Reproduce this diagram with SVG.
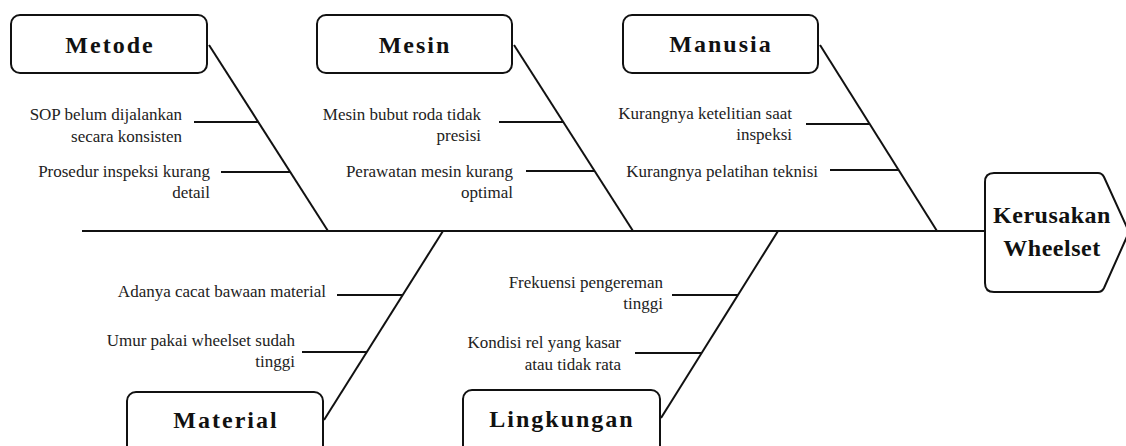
<svg xmlns="http://www.w3.org/2000/svg" width="1126" height="446" viewBox="0 0 1126 446">
<style>
.box{fill:#fff;stroke:#111;stroke-width:2}
.ln{stroke:#111;stroke-width:2;fill:none}
.t{font-family:"Liberation Serif","Times New Roman",serif;font-weight:bold;font-size:24px;letter-spacing:2px;fill:#111;text-anchor:middle}
.h{font-family:"Liberation Serif","Times New Roman",serif;font-weight:bold;font-size:24px;letter-spacing:0.5px;fill:#111;text-anchor:middle}
.s{font-family:"Liberation Serif","Times New Roman",serif;font-size:17px;fill:#222;text-anchor:end}
</style>
<rect width="1126" height="446" fill="#fff"/>
<g id="connectors">
<line class="ln" x1="82" y1="231" x2="985" y2="231"/>
<line class="ln" x1="209" y1="45" x2="328" y2="231"/>
<line class="ln" x1="194" y1="122" x2="258" y2="122"/>
<line class="ln" x1="221" y1="172" x2="290" y2="172"/>
<line class="ln" x1="514" y1="45" x2="633" y2="231"/>
<line class="ln" x1="499" y1="122" x2="563" y2="122"/>
<line class="ln" x1="526" y1="171" x2="594" y2="171"/>
<line class="ln" x1="820" y1="45" x2="937" y2="231"/>
<line class="ln" x1="806" y1="124" x2="869" y2="124"/>
<line class="ln" x1="830" y1="170" x2="898" y2="170"/>
<line class="ln" x1="324" y1="420" x2="443" y2="231"/>
<line class="ln" x1="337" y1="295" x2="403" y2="295"/>
<line class="ln" x1="302" y1="352" x2="367" y2="352"/>
<line class="ln" x1="661" y1="418" x2="778" y2="231"/>
<line class="ln" x1="672" y1="295" x2="738" y2="295"/>
<line class="ln" x1="635" y1="353" x2="701" y2="353"/>
</g>
<g id="metode">
<rect class="box" x="11" y="15" width="196" height="58" rx="9"/>
<text class="t" x="110" y="53">Metode</text>
<text class="s" x="182" y="120">SOP belum dijalankan</text>
<text class="s" x="182" y="142">secara konsisten</text>
<text class="s" x="210" y="177">Prosedur inspeksi kurang</text>
<text class="s" x="210" y="198">detail</text>
</g>
<g id="mesin">
<rect class="box" x="317" y="15" width="195" height="58" rx="9"/>
<text class="t" x="415" y="53">Mesin</text>
<text class="s" x="481" y="120">Mesin bubut roda tidak</text>
<text class="s" x="481" y="141">presisi</text>
<text class="s" x="513" y="177">Perawatan mesin kurang</text>
<text class="s" x="513" y="198">optimal</text>
</g>
<g id="manusia">
<rect class="box" x="623" y="15" width="195" height="58" rx="9"/>
<text class="t" x="721" y="52">Manusia</text>
<text class="s" x="792" y="119">Kurangnya ketelitian saat</text>
<text class="s" x="792" y="140">inspeksi</text>
<text class="s" x="818" y="177">Kurangnya pelatihan teknisi</text>
</g>
<g id="material">
<rect class="box" x="127" y="392" width="196" height="66" rx="9"/>
<text class="t" x="226" y="428">Material</text>
<text class="s" x="326" y="297">Adanya cacat bawaan material</text>
<text class="s" x="295" y="346">Umur pakai wheelset sudah</text>
<text class="s" x="295" y="367">tinggi</text>
</g>
<g id="lingkungan">
<rect class="box" x="463" y="390" width="197" height="68" rx="9"/>
<text class="t" x="562" y="427">Lingkungan</text>
<text class="s" x="663" y="288">Frekuensi pengereman</text>
<text class="s" x="663" y="309">tinggi</text>
<text class="s" x="621" y="348">Kondisi rel yang kasar</text>
<text class="s" x="621" y="370">atau tidak rata</text>
</g>
<g id="kerusakan">
<path class="box" d="M994,173 H1098 Q1102,173 1104,177 L1129,232 L1104,288 Q1102,292 1098,292 H994 Q985,292 985,283 V182 Q985,173 994,173 Z"/>
<text class="h" x="1052" y="223">Kerusakan</text>
<text class="h" x="1052" y="256">Wheelset</text>
</g>
</svg>
